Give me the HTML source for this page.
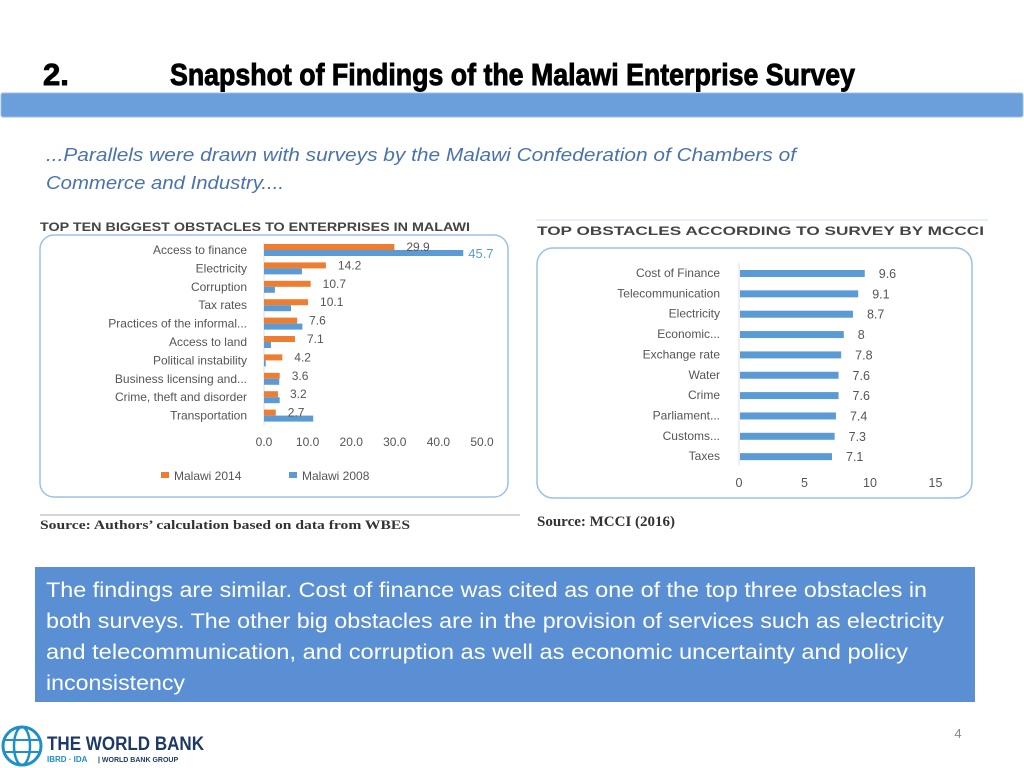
<!DOCTYPE html>
<html><head><meta charset="utf-8"><style>
body{margin:0;background:#fff;}
svg{display:block;font-family:"Liberation Sans",sans-serif;}
</style></head><body>
<svg width="1024" height="768" viewBox="0 0 1024 768">
<text x="43" y="85" font-family="'Liberation Sans Narrow','Liberation Sans',sans-serif" font-weight="bold" font-size="31" stroke="#000" stroke-width="0.9">2.</text>
<text x="170" y="85" font-family="'Liberation Sans Narrow','Liberation Sans',sans-serif" font-weight="bold" font-size="31" stroke="#000" stroke-width="0.9" textLength="685" lengthAdjust="spacingAndGlyphs">Snapshot of Findings of the Malawi Enterprise Survey</text>
<rect x="1" y="93" width="1022" height="24" rx="2" fill="#6a9fdb" stroke="#9bbde6"/>
<text font-style="italic" font-size="18" fill="#4a72b0"><tspan x="46" y="161" textLength="750" lengthAdjust="spacingAndGlyphs">...Parallels were drawn with surveys by the Malawi Confederation of Chambers of</tspan><tspan x="46" y="189" textLength="238" lengthAdjust="spacingAndGlyphs">Commerce and Industry....</tspan></text>

<g id="left"></g>
<g id="right"></g>

<rect x="35" y="567" width="940" height="135" fill="#5a8fd4"/>
<g fill="#fff" font-size="21">
<text x="46" y="597" textLength="881" lengthAdjust="spacingAndGlyphs">The findings are similar. Cost of finance was cited as one of the top three obstacles in</text>
<text x="46" y="628" textLength="898" lengthAdjust="spacingAndGlyphs">both surveys. The other big obstacles are in the provision of services such as electricity</text>
<text x="46" y="659" textLength="862" lengthAdjust="spacingAndGlyphs">and telecommunication, and corruption as well as economic uncertainty and policy</text>
<text x="46" y="690" textLength="139" lengthAdjust="spacingAndGlyphs">inconsistency</text>
</g>
<text x="958" y="738" font-size="13" fill="#888" text-anchor="middle">4</text>
<g>
<circle cx="22" cy="746" r="19" fill="none" stroke="#1e8fc9" stroke-width="3"/>
<ellipse cx="22" cy="746" rx="8" ry="19" fill="none" stroke="#1e8fc9" stroke-width="2.5"/>
<line x1="4" y1="740" x2="40" y2="740" stroke="#1e8fc9" stroke-width="2"/>
<line x1="4" y1="752" x2="40" y2="752" stroke="#1e8fc9" stroke-width="2"/>
<text x="47" y="750" font-weight="bold" font-size="19" fill="#1d3a66" textLength="157" lengthAdjust="spacingAndGlyphs">THE WORLD BANK</text>
<text x="47" y="762" font-size="8" fill="#1e8fc9" font-weight="bold">IBRD · IDA</text>
<text x="98" y="762" font-size="7" fill="#1d3a66" font-weight="bold">| WORLD BANK GROUP</text>
</g>
</svg>
<script>
const NS='http://www.w3.org/2000/svg';
function mk(p,t,a,txt){const e=document.createElementNS(NS,t);for(const k in a)e.setAttribute(k,a[k]);if(txt!==undefined)e.textContent=txt;p.appendChild(e);return e;}

const leftCats=['Access to finance','Electricity','Corruption','Tax rates','Practices of the informal...','Access to land','Political instability','Business licensing and...','Crime, theft and disorder','Transportation'];
const leftVals2014=[29.9,14.2,10.7,10.1,7.6,7.1,4.2,3.6,3.2,2.7];
const leftVals2008=[45.7,8.7,2.5,6.2,8.8,1.6,0.4,3.5,3.6,11.3];
const leftTicks=[0,10,20,30,40,50];
const rightCats=['Cost of Finance','Telecommunication','Electricity','Economic...','Exchange rate','Water','Crime','Parliament...','Customs...','Taxes'];
const rightVals=[9.6,9.1,8.7,8,7.8,7.6,7.6,7.4,7.3,7.1];
const rightTicks=[0,5,10,15];

// left chart
const L=document.getElementById('left');
const lx=v=>264+v*4.36, ly=i=>250+i*18.4;
let t=mk(L,'text',{x:40,y:231,'font-size':11.5,'font-weight':'bold',fill:'#444',textLength:430,lengthAdjust:'spacingAndGlyphs'},'TOP TEN BIGGEST OBSTACLES TO ENTERPRISES IN MALAWI');


let r=mk(L,'rect',{x:40,y:235,width:468,height:262,rx:14,fill:'none',stroke:'#9cc0e6','stroke-width':1.5});


mk(L,'line',{x1:264,y1:242,x2:264,y2:425,stroke:'#ddd'});
leftCats.forEach((c,i)=>{
  const y=ly(i);
  let lb=mk(L,'text',{x:247,y:y+4,'font-size':12,fill:'#555','text-anchor':'end'},c);
  
  
  let b1=mk(L,'rect',{x:264,y:y-6,width:lx(leftVals2014[i])-264,height:6,fill:'#ed7d31'});
  
  
  let b2=mk(L,'rect',{x:264,y:y,width:Math.max(1,lx(leftVals2008[i])-264),height:6,fill:'#5b9bd5'});
  
  
  let v=mk(L,'text',{x:lx(leftVals2014[i])+12,y:y+1,'font-size':12,fill:'#555'},leftVals2014[i].toFixed(1));
  
  
});
let v2=mk(L,'text',{x:lx(leftVals2008[0])+5,y:ly(0)+8,'font-size':13,fill:'#5b9bd5'},leftVals2008[0].toFixed(1));


leftTicks.forEach(tk=>{
  let e=mk(L,'text',{x:lx(tk),y:446,'font-size':12,fill:'#555','text-anchor':'middle'},tk.toFixed(1));
  
  
});
let g=mk(L,'g',{});


mk(g,'rect',{x:161,y:472,width:8,height:6,fill:'#ed7d31'});
mk(g,'text',{x:174,y:480,'font-size':12,fill:'#555'},'Malawi 2014');
mk(g,'rect',{x:289,y:472,width:8,height:6,fill:'#5b9bd5'});
mk(g,'text',{x:302,y:480,'font-size':12,fill:'#555'},'Malawi 2008');
mk(L,'line',{x1:40,y1:515,x2:520,y2:515,stroke:'#aaa'});
let s=mk(L,'text',{x:40,y:529,'font-size':12.5,'font-family':'Liberation Serif,serif','font-weight':'bold',fill:'#333',textLength:370,lengthAdjust:'spacingAndGlyphs'},'Source:  Authors\u2019 calculation based on data from WBES');



// right chart
const R=document.getElementById('right');
const rx=v=>739+v*13.1, ry=i=>273+i*20.35;
mk(R,'line',{x1:536,y1:220,x2:988,y2:220,stroke:'#cfe0f2'});
t=mk(R,'text',{x:537,y:235,'font-size':11.5,'font-weight':'bold',fill:'#444',textLength:447,lengthAdjust:'spacingAndGlyphs'},'TOP OBSTACLES ACCORDING TO SURVEY BY MCCCI');


r=mk(R,'rect',{x:537,y:248,width:435,height:250,rx:16,fill:'none',stroke:'#9cc0e6','stroke-width':1.5});


mk(R,'line',{x1:739,y1:263,x2:739,y2:465,stroke:'#ddd'});
rightCats.forEach((c,i)=>{
  const y=ry(i);
  let lb=mk(R,'text',{x:720,y:y+4,'font-size':12,fill:'#555','text-anchor':'end'},c);
  
  
  let b=mk(R,'rect',{x:740,y:y-3,width:rx(rightVals[i])-740,height:7,fill:'#5b9bd5'});
  
  
  let v=mk(R,'text',{x:rx(rightVals[i])+14,y:y+5,'font-size':12.5,fill:'#555'},String(rightVals[i]));
  
  
});
rightTicks.forEach(tk=>{
  let e=mk(R,'text',{x:rx(tk),y:487,'font-size':12.5,fill:'#555','text-anchor':'middle'},String(tk));
  
  
});
s=mk(R,'text',{x:537,y:526,'font-size':15,'font-family':'Liberation Serif,serif','font-weight':'bold',fill:'#333'},'Source:  MCCI (2016)');


</script>
</body></html>
